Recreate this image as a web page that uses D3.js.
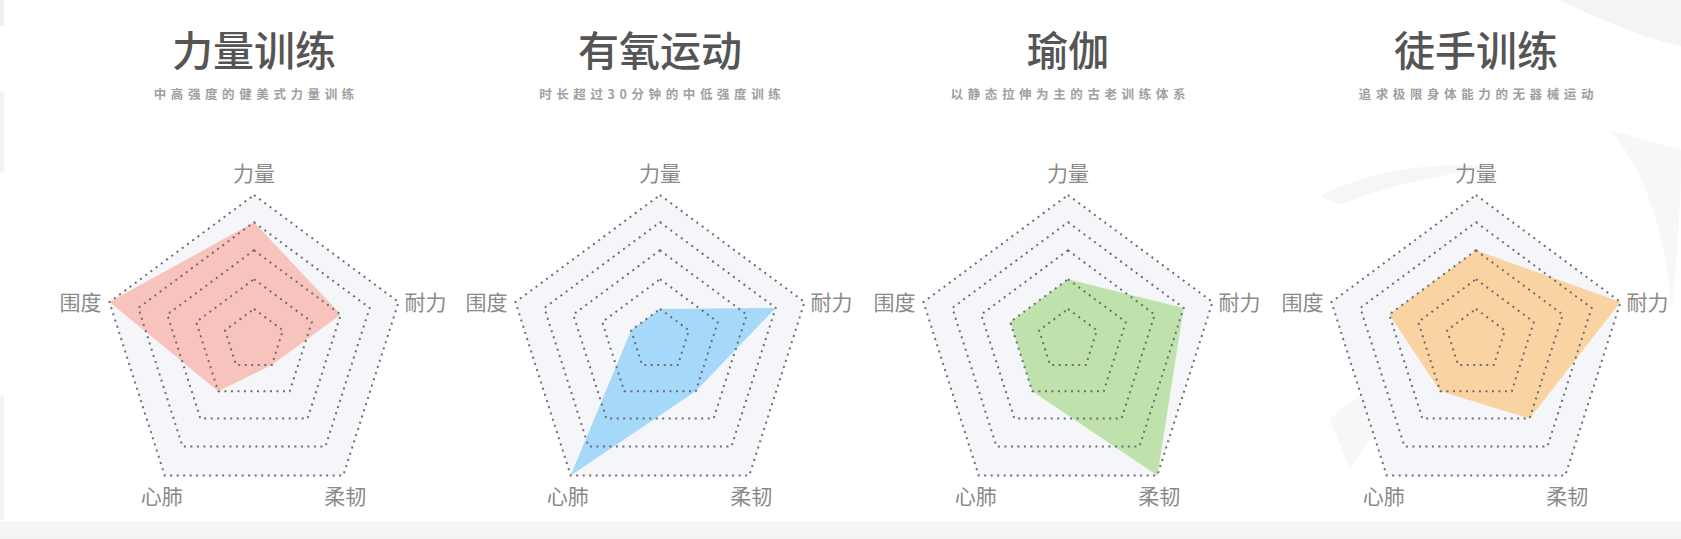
<!DOCTYPE html>
<html>
<head>
<meta charset="utf-8">
<script src="https://cdn.jsdelivr.net/npm/d3@7"></script>
<style>
  html, body { margin: 0; padding: 0; background: #ffffff; }
  svg { display: block; }
  text { font-family: "Noto Sans CJK SC", "Noto Sans", sans-serif; }
</style>
</head>
<body>
<svg id="chart" width="1681" height="539"></svg>
<script>
// ---------- data ----------
const axes = ["力量", "耐力", "柔韧", "心肺", "围度"];
const titles = ["力量训练", "有氧运动", "瑜伽", "徒手训练"];
const subtitles = [
  "中高强度的健美式力量训练",
  "时长超过30分钟的中低强度训练",
  "以静态拉伸为主的古老训练体系",
  "追求极限身体能力的无器械运动"
];
const strengthValues = [4, 3, 1, 2, 5];
const aerobicValues  = [1, 4, 2, 5, 1];
const yogaValues     = [2, 4, 5, 2, 2];
const bodyweightValues = [3, 5, 3, 2, 3];
const gridLevels = [1, 2, 3, 4, 5];
const maxLevel = 5;
const fillColors = ["#f8c3bc", "#a6d8fa", "#bfe2ad", "#f9d3a2"];

const series = [strengthValues, aerobicValues, yogaValues, bodyweightValues];

// ---------- layout ----------
const svg = d3.select("#chart");
const W = 1681, H = 539;

// background decorations
const bg = svg.append("g");
bg.append("rect").attr("x", 0).attr("y", 0).attr("width", W).attr("height", H).attr("fill", "#ffffff");
const grad = svg.append("defs").append("linearGradient").attr("id", "band").attr("x1", 0).attr("y1", 0).attr("x2", 0).attr("y2", 1);
grad.append("stop").attr("offset", "0%").attr("stop-color", "#f8f8f8");
grad.append("stop").attr("offset", "100%").attr("stop-color", "#f2f2f2");
bg.append("rect").attr("x", 0).attr("y", 521).attr("width", W).attr("height", H - 521).attr("fill", "url(#band)");
// faint brush strokes on the right
const brush = bg.append("g").attr("fill", "#f4f4f4");
brush.append("path").attr("d", "M1560,0 C1600,20 1650,40 1681,46 L1681,0 Z");
brush.append("path").attr("d", "M1320,196 C1370,170 1440,160 1500,168 C1450,172 1390,185 1340,205 Z").attr("fill", "#f6f6f6");
brush.append("path").attr("d", "M1610,130 C1645,170 1665,230 1672,310 C1676,260 1681,220 1681,150 Z").attr("fill", "#f7f7f7");
brush.append("path").attr("d", "M1330,420 C1370,380 1420,360 1470,362 C1420,380 1380,420 1350,470 Z").attr("fill", "#f7f7f7");
// faint marks on the left edge
bg.append("rect").attr("x", 0).attr("y", 0).attr("width", 4).attr("height", 26).attr("fill", "#f1f1f1");
bg.append("rect").attr("x", 0).attr("y", 92).attr("width", 4).attr("height", 80).attr("fill", "#f4f4f4");
bg.append("rect").attr("x", 0).attr("y", 395).attr("width", 4).attr("height", 125).attr("fill", "#f4f4f4");

const centersX = [254, 660, 1068, 1476];
const Rx = 152, Ry = 155, cyOuter = 350;

const t = d3.scaleLinear().domain([0, maxLevel]).range([0, 1]);
// rings drift slightly upward as they shrink
const cyAt = d3.scalePow().exponent(2).domain([0, 1]).range([cyOuter - 10.5, cyOuter]);
const angle = d3.scaleLinear().domain([0, axes.length]).range([0, 2 * Math.PI]);

function pt(cx, i, v) {
  const k = t(v), a = angle(i);
  return [cx + Math.sin(a) * Rx * k, cyAt(k) - Math.cos(a) * Ry * k];
}
const line = d3.line().curve(d3.curveLinearClosed);

series.forEach((vals, ci) => {
  const cx = centersX[ci];
  const g = svg.append("g");

  // title
  g.append("text")
    .attr("x", cx).attr("y", 66)
    .attr("text-anchor", "middle")
    .attr("font-size", 41).attr("font-weight", 500)
    .attr("fill", "#555555")
    .text(titles[ci]);
  // subtitle
  g.append("text")
    .attr("x", cx + 2.3).attr("y", 99)
    .attr("text-anchor", "middle")
    .attr("font-size", 12.5).attr("font-weight", 700)
    .attr("letter-spacing", "4.6px")
    .attr("fill", "#a0a0a0")
    .text(subtitles[ci]);

  // outer area fill
  g.append("path")
    .attr("d", line(axes.map((_, i) => pt(cx, i, maxLevel))))
    .attr("fill", "#f5f6f9");

  // data polygon
  g.append("path")
    .attr("d", line(vals.map((v, i) => pt(cx, i, v))))
    .attr("fill", fillColors[ci]);

  // grid rings
  g.selectAll(".ring").data(gridLevels).join("path")
    .attr("class", "ring")
    .attr("d", lv => line(axes.map((_, i) => pt(cx, i, lv))))
    .attr("fill", "none")
    .attr("stroke", "#6e6e6e")
    .attr("stroke-width", 2)
    .attr("stroke-dasharray", "2 4.5");

  // axis labels
  axes.forEach((name, i) => {
    const [x, y] = pt(cx, i, maxLevel);
    let lx = x, ly = y, anchor = "middle";
    if (i === 0) { ly = y - 22; }
    else if (i === 1) { lx = x + 6; anchor = "start"; }
    else if (i === 4) { lx = x - 8; anchor = "end"; }
    else { ly = y + 21; lx = x + (i === 2 ? 2 : -3); }
    g.append("text")
      .attr("x", lx).attr("y", ly + 7.5)
      .attr("text-anchor", anchor)
      .attr("font-size", 21)
      .attr("fill", "#8a8a8a")
      .text(name);
  });
});
</script>
</body>
</html>
